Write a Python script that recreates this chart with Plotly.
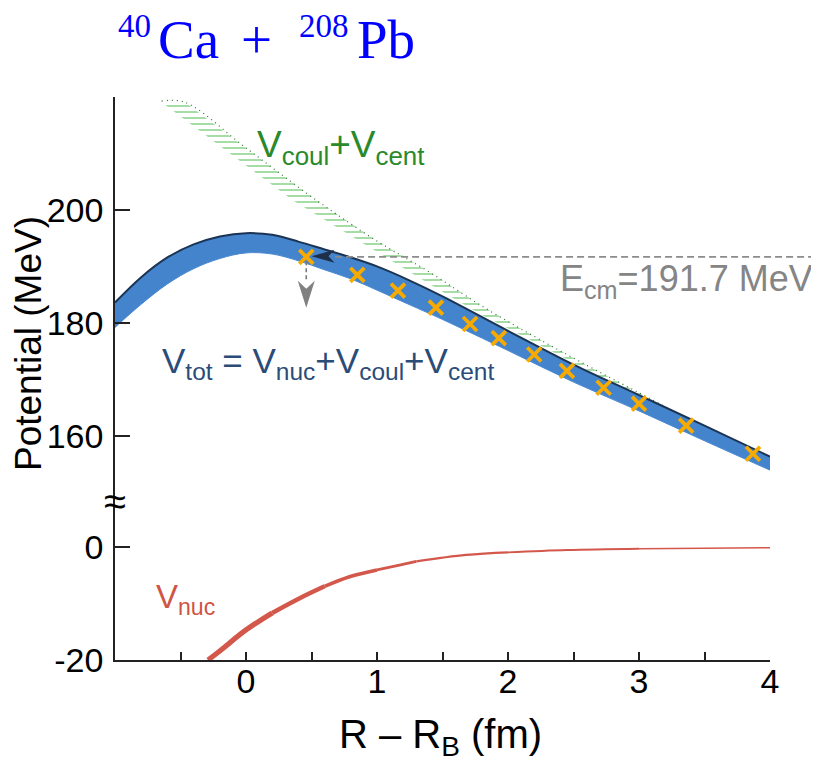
import plotly.graph_objects as go

# ---------------- data ----------------
band_x = [-1.0, -0.8, -0.6, -0.4, -0.2, 0.0, 0.2, 0.4, 0.6, 0.8, 1.0, 1.25, 1.5, 2.0, 2.5, 3.0, 3.5, 4.0]
vtot_top = [183.6, 188.1, 191.6, 193.9, 195.3, 195.9, 195.6, 194.4, 193.0, 191.6, 190.0, 187.5, 184.7, 178.6, 172.6, 167.2, 161.8, 156.3]
vtot_bot = [179.2, 183.3, 186.9, 189.6, 191.4, 192.4, 192.2, 191.0, 189.4, 187.8, 185.8, 183.2, 180.6, 175.1, 169.5, 164.4, 159.1, 153.9]

green_lo_x = [-0.644, -0.3, 0.0, 0.36, 0.8, 1.0, 1.4, 1.8, 2.2, 2.6, 3.0, 3.4]
green_lo = [219.1, 213.1, 207.9, 201.7, 195.4, 192.6, 186.9, 181.4, 176.6, 171.7, 167.0, 162.3]
green_hi_x = [-0.644, -0.466, 0.0, 0.54, 1.0, 1.4, 1.8, 2.2, 2.6, 3.0, 3.4]
green_hi = [219.3, 219.1, 211.0, 201.7, 194.5, 189.0, 183.0, 177.6, 172.5, 167.6, 162.7]

cross_x = [0.46, 0.85, 1.16, 1.45, 1.71, 1.93, 2.20, 2.45, 2.73, 3.00, 3.36, 3.87]
cross_v = [191.7, 188.5, 185.7, 182.7, 179.8, 177.3, 174.4, 171.5, 168.5, 165.7, 161.8, 156.8]

nuc_x = [-0.29, -0.2, 0.0, 0.2, 0.41, 0.6, 0.79, 1.0, 1.18, 1.3, 1.68, 2.0, 2.45, 3.0, 3.5, 4.0]
nuc_v = [-20.0, -18.4, -14.7, -11.7, -9.1, -7.0, -5.3, -4.1, -3.2, -2.6, -1.46, -1.0, -0.58, -0.35, -0.25, -0.17]

ECM = 191.7
ARROW_TIP_V = 182.7

x_ticks = [0, 1, 2, 3, 4]
x_minor_ticks = [-0.5, 0.5, 1.5, 2.5, 3.5]
upper_ticks = [160, 180, 200]
lower_ticks = [-20, 0]
lower_ticktext = ["-20", "0"]

# title pieces: text, screen-x centre, font size, baseline (screen y)
title_parts = [("40", 134, 33, 37.5), ("Ca", 188, 55, 58), ("+", 256, 55, 58),
               ("208", 324, 33, 37.5), ("Pb", 386, 55, 58)]

# ---------------- layout geometry ----------------
OFF = 8                      # page body margin of the browser
W, H = 819 - OFF, 763 - OFF
ML, MR, MT, MB = 115 - OFF, 49, 97 - OFF, 103
PW, PH = W - ML - MR, H - MT - MB
XR = [-1.0, 4.0]
BREAK_SCREEN = 501
split = (H - MB - (BREAK_SCREEN - OFF)) / PH
UPPER_R = [148.43, 220.03]
LOWER_R = [-20.0, 8.07]


def px(xs):
    """screen x pixel -> paper"""
    return (xs - OFF - ML) / PW


def py(ys):
    """screen y pixel -> paper"""
    return (H - MB - (ys - OFF)) / PH


def x2paper(v):
    return (v - XR[0]) / (XR[1] - XR[0])


SANS = "Liberation Sans, Arial, Helvetica, sans-serif"
SERIF = "Liberation Serif, Times New Roman, serif"
NAVY = "#1c3454"

fig = go.Figure()

# Vcoul + Vcent band (dotted green texture)
fig.add_trace(go.Scatter(
    x=green_hi_x + green_lo_x[::-1], y=green_hi + green_lo[::-1],
    xaxis="x", yaxis="y2", mode="lines", fill="toself",
    fillcolor="rgba(0,0,0,0)",
    fillpattern=dict(shape="-", fgcolor="#4dba4d", size=6, solidity=0.33),
    line=dict(width=0), hoverinfo="skip", showlegend=False))
fig.add_trace(go.Scatter(
    x=green_hi_x, y=green_hi, xaxis="x", yaxis="y2", mode="lines",
    line=dict(color="#2f732f", width=1.2, dash="1px,4px", shape="spline"),
    hoverinfo="skip", showlegend=False))

# Vtot band
fig.add_trace(go.Scatter(
    x=band_x, y=vtot_bot, xaxis="x", yaxis="y2", mode="lines",
    line=dict(color="#4a8ad2", width=1.0, shape="spline"),
    hoverinfo="skip", showlegend=False))
fig.add_trace(go.Scatter(
    x=band_x, y=vtot_top, xaxis="x", yaxis="y2", mode="lines",
    fill="tonexty", fillcolor="#4384cc",
    line=dict(color=NAVY, width=2.0, shape="spline"),
    hoverinfo="skip", showlegend=False))

# crosses
fig.add_trace(go.Scatter(
    x=cross_x, y=cross_v, xaxis="x", yaxis="y2", mode="markers",
    marker=dict(symbol="x-thin", size=14, line=dict(width=3.8, color="#f7aa00")),
    hoverinfo="skip", showlegend=False))

# Vnuc (thick to thin)
segs = [(0, 4, 5.2), (3, 6, 4.4), (5, 8, 3.6), (7, 10, 2.9), (9, 12, 2.3), (11, 14, 1.9), (13, len(nuc_x), 1.5)]
for a, b, wdt in segs:
    fig.add_trace(go.Scatter(
        x=nuc_x[a:b], y=nuc_v[a:b], xaxis="x", yaxis="y", mode="lines",
        line=dict(color="#d4574b", width=wdt, shape="spline"),
        hoverinfo="skip", showlegend=False))

shapes = []
# E_cm dashed line
shapes.append(dict(type="line", xref="paper", yref="y2",
                   x0=x2paper(0.68), x1=px(816), y0=ECM, y1=ECM,
                   line=dict(color="#8c8c8c", width=1.6, dash="7px,4px")))
# dark arrowhead pointing left onto the barrier
shapes.append(dict(type="path", xref="x", yref="y2", xsizemode="pixel", ysizemode="pixel",
                   xanchor=0.50, yanchor=ECM + 0.1,
                   path="M0,0 L23,6.5 L17,0 L23,-6.5 Z",
                   fillcolor="#1f2f4a", line=dict(width=0)))
# vertical dashed arrow down from the first cross
shapes.append(dict(type="line", xref="x", yref="y2",
                   x0=cross_x[0], x1=cross_x[0], y0=ECM - 0.8, y1=ARROW_TIP_V + 4.5,
                   line=dict(color="#7a7a7a", width=1.6, dash="4px,3px")))
shapes.append(dict(type="path", xref="x", yref="y2", xsizemode="pixel", ysizemode="pixel",
                   xanchor=cross_x[0], yanchor=ARROW_TIP_V,
                   path="M0,0 L-8.5,27 L0,19 L8.5,27 Z",
                   fillcolor="#808080", line=dict(width=0)))

annotations = []
# title "40Ca + 208Pb" built from pieces (serif, blue)
for txt, xc, fs, base in title_parts:
    mid = base - 0.3375 * fs          # centre of the text box for Liberation Serif metrics
    annotations.append(dict(text=txt, x=px(xc), y=py(mid), xref="paper", yref="paper",
                            showarrow=False, xanchor="center", yanchor="middle", borderpad=0,
                            font=dict(family=SERIF, size=fs, color="#0000ff")))

annotations += [
    dict(text="V<sub>coul</sub>+V<sub>cent</sub>", x=px(255), y=py(147), xref="paper", yref="paper",
         showarrow=False, xanchor="left", yanchor="middle",
         font=dict(family=SANS, size=37, color="#2a8a2a")),
    dict(text="E<sub>cm</sub>=191.7 MeV", x=px(815), y=py(281), xref="paper", yref="paper",
         showarrow=False, xanchor="right", yanchor="middle",
         font=dict(family=SANS, size=36, color="#858585")),
    dict(text="V<sub>tot</sub> = V<sub>nuc</sub>+V<sub>coul</sub>+V<sub>cent</sub>", x=px(160), y=py(363),
         xref="paper", yref="paper", showarrow=False, xanchor="left", yanchor="middle",
         font=dict(family=SANS, size=35, color="#2b4c78")),
    dict(text="V<sub>nuc</sub>", x=px(154), y=py(599), xref="paper", yref="paper",
         showarrow=False, xanchor="left", yanchor="middle",
         font=dict(family=SANS, size=33, color="#cf5545")),
    dict(text="Potential (MeV)", x=px(28), y=py(344), xref="paper", yref="paper",
         showarrow=False, textangle=-90, xanchor="center", yanchor="middle",
         font=dict(family=SANS, size=37, color="black")),
    dict(text="R – R<sub>B</sub> (fm)", x=px(440), y=py(737), xref="paper", yref="paper",
         showarrow=False, xanchor="center", yanchor="middle",
         font=dict(family=SANS, size=40, color="black")),
    dict(text="≈", x=px(115), y=py(BREAK_SCREEN), xref="paper", yref="paper",
         showarrow=False, xanchor="center", yanchor="middle",
         font=dict(family=SANS, size=40, color="black")),
]

axis_common = dict(showline=True, linecolor="#222222", linewidth=1.6, ticks="inside",
                   tickcolor="#222222", tickwidth=1.6, showgrid=False, zeroline=False,
                   tickfont=dict(family=SANS, size=34, color="black"), automargin=False)

fig.update_layout(
    width=W, height=H,
    margin=dict(l=ML, r=MR, t=MT, b=MB, pad=0),
    paper_bgcolor="white", plot_bgcolor="white",
    showlegend=False,
    xaxis=dict(range=XR, domain=[0, 1], anchor="y", tickmode="array",
               tickvals=x_ticks, ticklen=8, ticklabelstandoff=-10,
               minor=dict(tickmode="array", tickvals=x_minor_ticks, ticks="inside",
                          ticklen=8, tickwidth=1.6, tickcolor="#222222", showgrid=False),
               **axis_common),
    yaxis=dict(range=LOWER_R, domain=[0, split], anchor="x", tickmode="array",
               tickvals=lower_ticks, ticktext=lower_ticktext, ticklen=15,
               ticklabelstandoff=3, **axis_common),
    yaxis2=dict(range=UPPER_R, domain=[split, 1], anchor="x", tickmode="array",
                tickvals=upper_ticks, ticklen=15, ticklabelstandoff=3, **axis_common),
    shapes=shapes,
    annotations=annotations,
)

fig.write_html("out.html")
